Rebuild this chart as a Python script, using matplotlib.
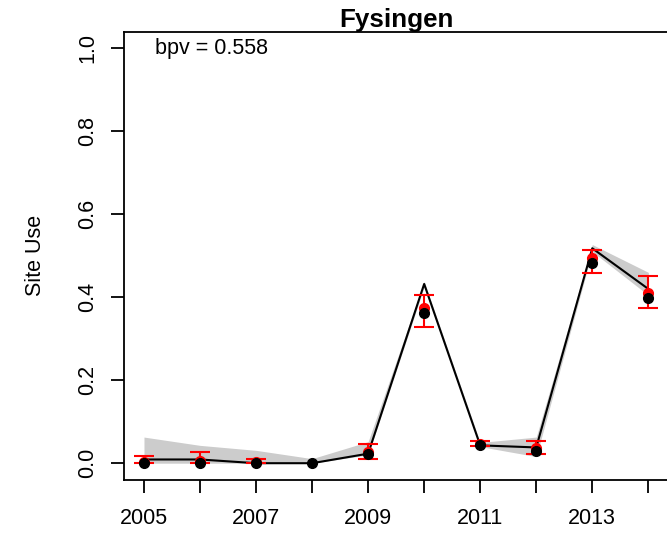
import numpy as np
import matplotlib
matplotlib.use("Agg")
import matplotlib.pyplot as plt

plt.rcParams['font.family'] = ['Liberation Sans', 'DejaVu Sans']

years = [2005, 2006, 2007, 2008, 2009, 2010, 2011, 2012, 2013, 2014]
# fitted line and grey band
fit_line = [0.009, 0.009, 0.0, 0.0, 0.023, 0.432, 0.043, 0.038, 0.518, 0.420]
band_lo = [0.0, 0.0, 0.0, 0.0, 0.020, 0.425, 0.040, 0.016, 0.510, 0.405]
band_hi = [0.063, 0.043, 0.031, 0.011, 0.052, 0.438, 0.050, 0.063, 0.527, 0.460]
# observed (black) and simulated mean +- error (red)
obs = [0.0, 0.0, 0.0, 0.0, 0.023, 0.361, 0.043, 0.030, 0.482, 0.398]
sim_mean = [0.004, 0.006, 0.002, np.nan, 0.027, 0.373, 0.047, 0.036, 0.494, 0.410]
sim_lo = [0.0, 0.0, 0.0, np.nan, 0.010, 0.328, 0.041, 0.022, 0.458, 0.375]
sim_hi = [0.018, 0.027, 0.011, np.nan, 0.047, 0.405, 0.054, 0.054, 0.514, 0.452]

title = "Fysingen"
bpv_label = "bpv = 0.558"
W, H = 667, 535

fig = plt.figure(figsize=(W / 100, H / 100), dpi=100)
left, right, top, bottom = 123.8, 668.5, 31.7, 479.8
ax = fig.add_axes([left / W, (H - bottom) / H, (right - left) / W, (bottom - top) / H])

yrs = np.array(years)
ax.fill_between(yrs, band_lo, band_hi, color='#cccccc', linewidth=0, zorder=1)
ax.plot(yrs, fit_line, color='black', lw=1.5, zorder=2)

mean = np.array(sim_mean)
err = [mean - np.array(sim_lo), np.array(sim_hi) - mean]
ax.errorbar(yrs, mean, yerr=err, fmt='o', color='red', ms=7, ecolor='red',
            elinewidth=1.5, capsize=7.5, capthick=1.5, zorder=3)
ax.plot(yrs, obs, 'o', color='black', ms=7, zorder=4)

ax.set_xlim(2004.64, 2014.36)
ax.set_ylim(-0.04, 1.04)

ax.set_xticks(years)
ax.set_xticklabels([str(y) if y % 2 == 1 else '' for y in years])
yt = [0.0, 0.2, 0.4, 0.6, 0.8, 1.0]
ax.set_yticks(yt)
ax.set_yticklabels(['%.1f' % v for v in yt], rotation=90, va='center')

ax.tick_params(axis='both', direction='out', length=9.4, width=1.3,
               labelsize=15.5, colors='black')
ax.tick_params(axis='x', pad=11)
ax.tick_params(axis='y', pad=9)
for s in ax.spines.values():
    s.set_linewidth(1.3)

ax.set_title(title, fontsize=18.7, fontweight='bold', pad=3.4)
ax.text(2005.2, 1.0, bpv_label, fontsize=15.5, ha='left', va='center')
fig.text(35.5 / W, 1 - (255.7 / H), 'Site Use', rotation=90, fontsize=15.5,
         ha='center', va='center')

fig.savefig('out.png', dpi=100)
